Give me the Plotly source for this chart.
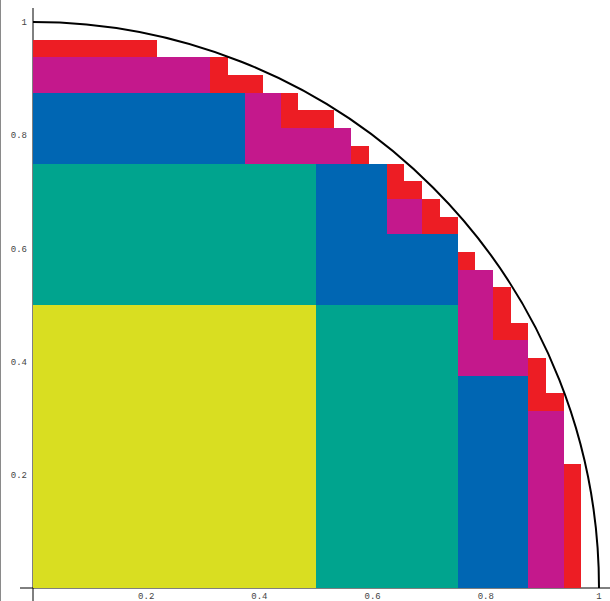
import plotly.graph_objects as go

# Column heights (number of filled squares per column) for each level of squares,
# read from the picture. Level with N columns has squares of side 1/N.
level_sizes = [2, 4, 8, 16, 32]
heights_l1 = [1, 0]
heights_l2 = [3, 3, 2, 0]
heights_l3 = [7, 7, 7, 6, 6, 5, 3, 0]
heights_l4 = [15, 15, 15, 15, 15, 14, 14, 13, 13, 12, 11, 10, 9, 7, 5, 0]
heights_l5 = [31, 31, 31, 31, 31, 31, 31, 30, 30, 30, 30, 29, 29, 28, 28, 27,
              27, 26, 25, 24, 24, 23, 22, 21, 19, 18, 17, 15, 13, 11, 7, 0]
level_colors = ["#D9DE21", "#00A48E", "#0066B3", "#C4188C", "#ED1D24"]
tick_vals = [0.2, 0.4, 0.6, 0.8, 1.0]
tick_text = ["0.2", "0.4", "0.6", "0.8", "1"]

all_heights = [heights_l1, heights_l2, heights_l3, heights_l4, heights_l5]

FINE = 32
coverage = [0.0] * FINE
fig = go.Figure()

for N, hs, col in zip(level_sizes, all_heights, level_colors):
    rects = []
    step = FINE // N
    for i, h in enumerate(hs):
        top = h / N
        base = coverage[i * step]
        if top > base + 1e-12:
            rects.append([i / N, (i + 1) / N, base, top])
        for k in range(i * step, (i + 1) * step):
            coverage[k] = max(coverage[k], top)
    # merge adjacent columns with identical base/top
    merged = []
    for r in rects:
        if merged and abs(merged[-1][1] - r[0]) < 1e-12 and merged[-1][2] == r[2] and merged[-1][3] == r[3]:
            merged[-1][1] = r[1]
        else:
            merged.append(list(r))
    fig.add_trace(go.Bar(
        x=[(r[0] + r[1]) / 2 for r in merged],
        width=[r[1] - r[0] for r in merged],
        base=[r[2] for r in merged],
        y=[r[3] - r[2] for r in merged],
        marker=dict(color=col, line=dict(width=0)),
        showlegend=False,
        hoverinfo="skip",
    ))

W, H = 610, 601
L, B = 33, 13
pw, ph = W - L, H - B
unit = 566.0

fig.add_shape(type="circle", xref="x", yref="y", x0=-1, y0=-1, x1=1, y1=1,
              line=dict(color="black", width=2), layer="above")

# axis lines (crossing at origin, slightly extended)
fig.add_shape(type="line", xref="paper", yref="paper",
              x0=-13 / pw, x1=1, y0=0, y1=0,
              line=dict(color="black", width=1), layer="below")
fig.add_shape(type="line", xref="paper", yref="paper",
              x0=0, x1=0, y0=-13 / ph, y1=(ph - 8) / ph,
              line=dict(color="black", width=1), layer="below")
# left frame line
fig.add_shape(type="line", xref="paper", yref="paper",
              x0=(0.5 - L) / pw, x1=(0.5 - L) / pw, y0=-B / ph, y1=1,
              line=dict(color="#8a8a8a", width=1), layer="below")

tickfont = dict(family="Liberation Mono, Courier New, monospace", size=9, color="#444444")
fig.update_layout(
    template="none",
    width=W, height=H,
    margin=dict(l=L, r=0, t=0, b=B, pad=0),
    barmode="overlay",
    bargap=0,
    plot_bgcolor="white",
    paper_bgcolor="white",
    xaxis=dict(range=[0, pw / unit], showgrid=False, zeroline=False, showline=False,
               tickvals=tick_vals, ticktext=tick_text, ticks="", tickfont=tickfont,
               automargin=False, ticklabelstandoff=1, fixedrange=True),
    yaxis=dict(range=[0, ph / unit], showgrid=False, zeroline=False, showline=False,
               tickvals=tick_vals, ticktext=tick_text, ticks="", tickfont=tickfont,
               automargin=False, ticklabelstandoff=5, fixedrange=True),
)

fig.write_html(
    "out.html",
    config={"displayModeBar": False},
    post_script="document.body.style.margin='0';document.body.style.overflow='hidden';",
)
